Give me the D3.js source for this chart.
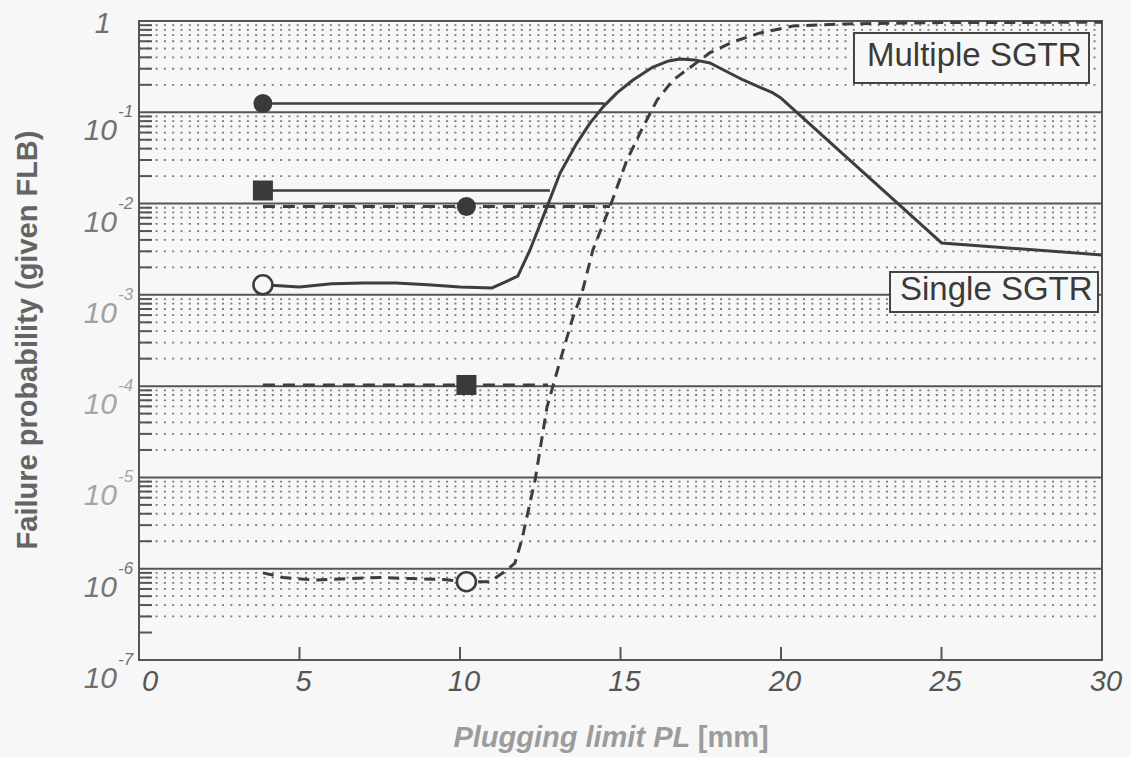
<!DOCTYPE html>
<html>
<head>
<meta charset="utf-8">
<script src="https://cdn.jsdelivr.net/npm/d3@7"></script>
<style>
  html, body { margin: 0; padding: 0; background: #f7f7f7; }
  svg { display: block; }
  text { font-family: "Liberation Sans", Arial, sans-serif; }
</style>
</head>
<body>
<svg id="chart" width="1131" height="757"></svg>
<script>
// ---------------- data ----------------
const xTicks = [0, 5, 10, 15, 20, 25, 30];
const yDecades = [1, 1e-1, 1e-2, 1e-3, 1e-4, 1e-5, 1e-6, 1e-7];
const yExponents = ["", "-1", "-2", "-3", "-4", "-5", "-6", "-7"];

// Single SGTR (solid curve): plugging limit [mm], failure probability
const solidX = [3.86, 5.0, 6.0, 7.0, 8.0, 9.0, 10.0, 11.0, 11.8, 12.18, 12.71, 13.12, 13.64, 14.05, 14.45, 14.89, 15.39, 16.01, 16.5, 16.85, 17.3, 17.79, 18.82, 19.75, 20.0, 25.0, 30.0];
const solidP = [1.29e-3, 1.22e-3, 1.32e-3, 1.35e-3, 1.35e-3, 1.29e-3, 1.22e-3, 1.19e-3, 1.6e-3, 3.1e-3, 9.2e-3, 0.0216, 0.046, 0.076, 0.114, 0.163, 0.226, 0.313, 0.365, 0.384, 0.375, 0.347, 0.226, 0.163, 0.143, 3.7e-3, 2.74e-3];

// Multiple SGTR (dashed curve)
const dashX = [3.86, 4.5, 5.5, 6.5, 7.5, 8.5, 9.5, 10.2, 10.93, 11.46, 11.71, 11.93, 12.34, 12.71, 13.12, 13.52, 13.80, 14.14, 14.67, 15.20, 15.70, 16.14, 16.64, 17.17, 17.79, 18.50, 19.35, 20.37, 22.0, 25.0, 30.0];
const dashP = [9.0e-7, 8.0e-7, 7.5e-7, 7.8e-7, 8.0e-7, 7.8e-7, 7.6e-7, 7.2e-7, 7.2e-7, 9.7e-7, 1.15e-6, 2.1e-6, 9.4e-6, 5.9e-5, 1.9e-4, 5.7e-4, 1.05e-3, 3.1e-3, 9.2e-3, 0.030, 0.069, 0.136, 0.226, 0.31, 0.45, 0.59, 0.74, 0.88, 0.93, 0.96, 0.97];

// Reference levels (horizontal lines with markers)
const refNames  = ["multSolidCircle", "multSolidSquare", "multDashCircle", "singleDashSquare"];
const refStartX = [3.86, 3.86, 3.86, 3.86];
const refEndX   = [14.5, 12.8, 14.67, 12.74];
const refP      = [0.125, 0.0139, 0.0093, 1.03e-4];
const refDashed = [false, false, true, true];
const refMarkX  = [3.86, 3.86, 10.2, 10.2];
const refMarker = ["circle", "square", "circle", "square"];

// Open circle markers on the curves
const openX = [3.86, 10.2];
const openP = [1.29e-3, 7.2e-7];

const legendLabels = ["Multiple SGTR", "Single SGTR"];

// ---------------- drawing ----------------
const svg = d3.select("#chart");
const x = d3.scaleLinear().domain([0, 30]).range([139, 1102]);
const y = d3.scaleLog().domain([1e-7, 1]).range([660, 21]);

const ink = "#3d3d3d";
const gridCol = "#7a7a7a";

// minor grid (dotted) lines
const minorVals = [];
for (let k = -7; k <= -1; k++) {
  for (let m = 2; m <= 9; m++) minorVals.push(m * Math.pow(10, k));
}
svg.append("g").selectAll("line")
  .data(minorVals.filter(v => v > 2.5e-7))
  .join("line")
  .attr("x1", x(0)).attr("x2", x(30))
  .attr("y1", d => y(d)).attr("y2", d => y(d))
  .attr("stroke", gridCol).attr("stroke-width", 1.8)
  .attr("stroke-dasharray", "2,6.3");

// minor ticks on left axis
svg.append("g").selectAll("line")
  .data(minorVals)
  .join("line")
  .attr("x1", x(0)).attr("x2", x(0) + 13)
  .attr("y1", d => y(d)).attr("y2", d => y(d))
  .attr("stroke", "#555").attr("stroke-width", 2);

// decade grid lines (solid)
svg.append("g").selectAll("line")
  .data(yDecades)
  .join("line")
  .attr("x1", x(0)).attr("x2", x(30))
  .attr("y1", d => y(d)).attr("y2", d => y(d))
  .attr("stroke", "#555").attr("stroke-width", 2);

// frame
svg.append("rect")
  .attr("x", x(0)).attr("y", y(1))
  .attr("width", x(30) - x(0)).attr("height", y(1e-7) - y(1))
  .attr("fill", "none").attr("stroke", "#555").attr("stroke-width", 2);

// x ticks
svg.append("g").selectAll("line")
  .data(xTicks.slice(1, -1))
  .join("line")
  .attr("x1", d => x(d)).attr("x2", d => x(d))
  .attr("y1", y(1e-7)).attr("y2", y(1e-7) - 13)
  .attr("stroke", "#555").attr("stroke-width", 2);

// x tick labels
svg.append("g").selectAll("text")
  .data(xTicks)
  .join("text")
  .attr("x", d => x(d) + (d === 0 ? 11 : 4))
  .attr("y", 691)
  .attr("text-anchor", "middle")
  .attr("font-size", 29)
  .attr("font-style", "italic")
  .attr("fill", "#555")
  .text(d => d);

// y tick labels
const yLabCol = ["#707070", "#707070", "#7a7a7a", "#a0a0a0", "#a6a6a6", "#a6a6a6", "#767676", "#707070"];
const yl = svg.append("g");
yDecades.forEach((v, i) => {
  const py = y(v);
  if (i === 0) {
    yl.append("text").attr("x", 111).attr("y", py + 12)
      .attr("text-anchor", "end").attr("font-size", 29).attr("font-style", "italic")
      .attr("fill", yLabCol[i]).text("1");
  } else {
    yl.append("text").attr("x", 117).attr("y", py + 28)
      .attr("text-anchor", "end").attr("font-size", 30).attr("font-style", "italic")
      .attr("fill", yLabCol[i]).text("10");
    yl.append("text").attr("x", 118).attr("y", py + 5)
      .attr("text-anchor", "start").attr("font-size", 17).attr("font-style", "italic")
      .attr("fill", yLabCol[i]).text(yExponents[i]);
  }
});

// axis titles
svg.append("text")
  .attr("transform", "translate(37,340) rotate(-90)")
  .attr("text-anchor", "middle")
  .attr("font-size", 29).attr("font-weight", "bold")
  .attr("fill", "#646464")
  .text("Failure probability (given FLB)");

const xt = svg.append("text")
  .attr("x", 611).attr("y", 747)
  .attr("text-anchor", "middle")
  .attr("font-size", 29).attr("font-weight", "bold")
  .attr("fill", "#9c9c9c");
xt.append("tspan").attr("font-style", "italic").text("Plugging limit PL ");
xt.append("tspan").text("[mm]");

// legend boxes (drawn under curves)
const boxes = [
  { x0: 854, y0: 33, x1: 1089, y1: 83, tx: 867, ty: 66 },
  { x0: 890, y0: 272, x1: 1098, y1: 312, tx: 900, ty: 300 }
];
boxes.forEach((b, i) => {
  svg.append("rect")
    .attr("x", b.x0).attr("y", b.y0)
    .attr("width", b.x1 - b.x0).attr("height", b.y1 - b.y0)
    .attr("fill", "#f7f7f7").attr("stroke", "#444").attr("stroke-width", 2);
  svg.append("text")
    .attr("x", b.tx).attr("y", b.ty)
    .attr("font-size", 33).attr("fill", "#3a3a3a")
    .text(legendLabels[i]);
});

// reference lines
refNames.forEach((n, i) => {
  svg.append("line")
    .attr("x1", x(refStartX[i])).attr("x2", x(refEndX[i]))
    .attr("y1", y(refP[i])).attr("y2", y(refP[i]))
    .attr("stroke", ink).attr("stroke-width", refDashed[i] ? 3 : 2.6)
    .attr("stroke-dasharray", refDashed[i] ? "12,8" : null);
});

// curves
const line = d3.line().x(d => x(d[0])).y(d => y(d[1])).curve(d3.curveLinear);
svg.append("path")
  .attr("d", line(solidX.map((v, i) => [v, solidP[i]])))
  .attr("fill", "none").attr("stroke", ink).attr("stroke-width", 3)
  .attr("stroke-linejoin", "round");
svg.append("path")
  .attr("d", line(dashX.map((v, i) => [v, dashP[i]])))
  .attr("fill", "none").attr("stroke", ink).attr("stroke-width", 3)
  .attr("stroke-dasharray", "11,7");

// filled markers
refNames.forEach((n, i) => {
  const cx = x(refMarkX[i]), cy = y(refP[i]);
  if (refMarker[i] === "circle") {
    svg.append("circle").attr("cx", cx).attr("cy", cy).attr("r", 9.5).attr("fill", "#3a3a3a");
  } else {
    svg.append("rect").attr("x", cx - 10).attr("y", cy - 10)
      .attr("width", 20).attr("height", 20).attr("fill", "#3a3a3a");
  }
});

// open markers
svg.append("g").selectAll("circle")
  .data(openX.map((v, i) => [v, openP[i]]))
  .join("circle")
  .attr("cx", d => x(d[0])).attr("cy", d => y(d[1]))
  .attr("r", 9.5).attr("fill", "#f7f7f7")
  .attr("stroke", ink).attr("stroke-width", 2.6);
</script>
</body>
</html>
